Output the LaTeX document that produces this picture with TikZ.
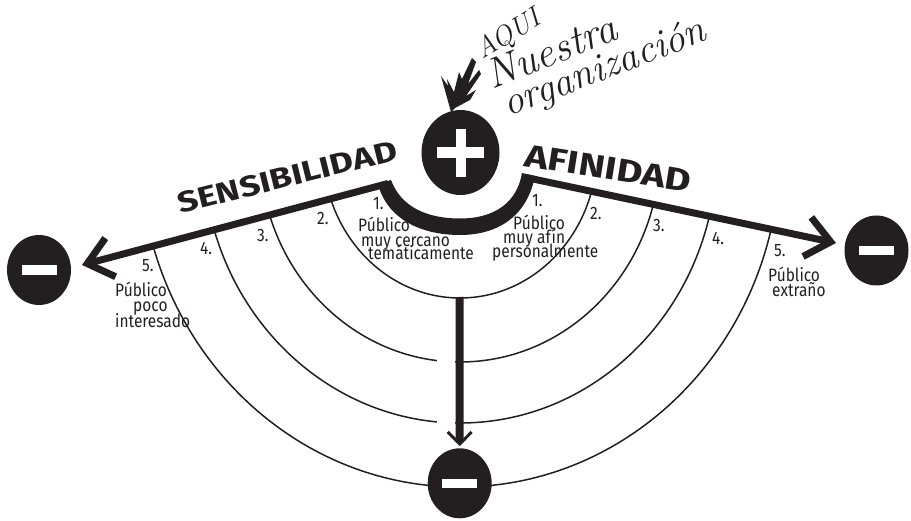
\documentclass[tikz,border=0pt]{standalone}
\usepackage{fontspec}
\usetikzlibrary{arrows.meta,shapes.geometric}
\newfontfamily\lblfont[FakeStretch=0.86]{Fira Sans}
\newfontfamily\headfont{Fira Sans}
\definecolor{ink}{HTML}{231F20}
\begin{document}
\begin{tikzpicture}[x=1pt,y=-1pt,
  thinarc/.style={ink,line width=1.5pt},
  mainline/.style={ink,line width=7pt,line join=miter,
    -{Straight Barb[length=24pt,width=40pt]}},
  downline/.style={ink,line width=8pt,
    -{Straight Barb[length=12pt,width=24pt,line width=3pt]},shorten >=2pt},
  disc/.style={ellipse,fill=ink,inner sep=0pt,minimum width=64pt,minimum height=70pt},
  lbl/.style={ink,font=\lblfont\fontsize{18}{18}\selectfont,inner sep=0pt,anchor=base west},
  head/.style={ink,font=\headfont\bfseries,inner sep=0pt,anchor=base west},
  hand/.style={ink,font=\itshape\fontsize{40}{40}\selectfont,inner sep=0pt,anchor=base west}]
\useasboundingbox (0,0) rectangle (911,521);

% concentric arcs, clipped below the two top lines
\begin{scope}
\clip (82,265) -- (391,183) -- (460,178) -- (524,177) -- (836,243) -- (836,521) -- (82,521) -- cycle;
\draw[thinarc] (460,150) ellipse [x radius=137pt, y radius=148pt];
\draw[thinarc] (460,150) ellipse [x radius=200pt, y radius=212pt];
\draw[thinarc] (460,150) ellipse [x radius=257pt, y radius=273pt];
\draw[thinarc] (460,150) ellipse [x radius=320pt, y radius=337pt];
\end{scope}
\fill[white] (437,305) rectangle (455,441);

% circles
\node[disc,minimum width=78pt,minimum height=85pt] (plus) at (460.5,152.5) {};
\node[disc] (mL) at (39,270) {};
\node[disc] (mR) at (876.5,250.5) {};
\node[disc] (mB) at (459.7,483.3) {};
\fill[white] (437,147.5) rectangle (484,158);
\fill[white] (455.5,129) rectangle (466,177);
\foreach \n in {mL,mR,mB}{
  \fill[white] ([shift={(-17.5,-4.7)}]\n.center) rectangle ([shift={(17.5,4.7)}]\n.center);
}

% cup under the plus
\fill[ink] (391,180) .. controls (401,207) and (427,218.5) .. (460,218.5)
  .. controls (494,218.5) and (517,203) .. (522,173) -- (535,176)
  .. controls (527,217) and (497,235) .. (460,235)
  .. controls (421,235) and (387,219) .. (378,184) -- cycle;

% main lines
\coordinate (cupL) at (388,183.5);
\coordinate (cupR) at (526,177.5);
\coordinate (tipL) at (82,265);
\coordinate (tipR) at (836,243);
\coordinate (arcB) at (459.5,297);
\draw[mainline] (cupL) -- (tipL);
\draw[mainline] (cupR) -- (tipR);
\draw[downline] (arcB) -- (mB);

% headings
\node[head,font=\headfont\bfseries\fontsize{29}{29}\selectfont,rotate=14] (sens) at (180,214) {\scalebox{1.25}[1]{SENSIBILIDAD}};
\node[head,font=\headfont\bfseries\fontsize{32}{32}\selectfont,rotate=-9] (afin) at (523,166) {\scalebox{1.25}[1]{AFINIDAD}};

% left labels
\node[lbl] (l1) at (373,210) {1.};
\node[lbl] (l1a) at (358,232) {Público};
\node[lbl] (l1b) at (361,246.5) {muy cercano};
\node[lbl] (l1c) at (368,260) {temáticamente};
\node[lbl] (l2) at (317,225) {2.};
\node[lbl] (l3) at (257,242) {3.};
\node[lbl] (l4) at (200,255) {4.};
\node[lbl] (l5) at (142,272) {5.};
\node[lbl] (l5a) at (115,297) {Público};
\node[lbl] (l5b) at (133,312) {poco};
\node[lbl] (l5c) at (115,328) {interesado};

% right labels
\node[lbl] (r1) at (532,207) {1.};
\node[lbl] (r1a) at (513,230) {Público};
\node[lbl] (r1b) at (503,243.5) {muy afín};
\node[lbl] (r1c) at (492,258) {personalmente};
\node[lbl] (r2) at (590,220) {2.};
\node[lbl] (r3) at (653,232) {3.};
\node[lbl] (r4) at (712,245) {4.};
\node[lbl] (r5) at (774,257) {5.};
\node[lbl] (r5a) at (768,282) {Público};
\node[lbl] (r5b) at (772,297) {extraño};

% handwriting
\node[hand,font=\itshape\fontsize{28}{28}\selectfont,rotate=31] (aqui) at (482,60) {AQUI};
\node[hand,font=\itshape\fontsize{42}{42}\selectfont,rotate=22] (nues) at (492,90) {Nuestra};
\node[hand,rotate=21] (orga) at (508,117) {organización};

% scribbled arrow
\fill[ink] (451,112) -- (441,76) -- (448,86) -- (447,79) -- (454,92) -- (459,72)
  -- (462,79) -- (472,58) -- (476,62) -- (468,84) -- (479,70) -- (481,74)
  -- (466,96) -- (476,90) -- (470,100) -- (455,108) -- cycle;
\end{tikzpicture}
\end{document}
